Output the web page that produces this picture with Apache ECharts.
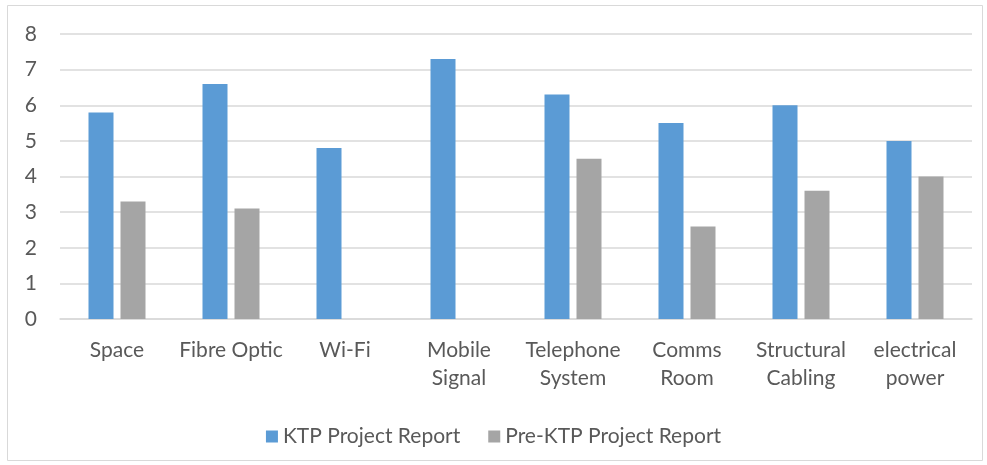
<!DOCTYPE html>
<html>
<head>
<meta charset="utf-8">
<script src="https://cdn.jsdelivr.net/npm/echarts@6/dist/echarts.min.js"></script>
<style>
  html, body { margin: 0; padding: 0; background: #fff; }
  #chart { width: 987px; height: 465px; }
</style>
</head>
<body>
<div id="chart"></div>
<script>
// Chart data
const categories = ['Space', 'Fibre Optic', 'Wi-Fi', 'Mobile\nSignal', 'Telephone\nSystem', 'Comms\nRoom', 'Structural\nCabling', 'electrical\npower'];
const ktpValues = [5.8, 6.6, 4.8, 7.3, 6.3, 5.5, 6.0, 5.0];
const preKtpValues = [3.3, 3.1, null, null, 4.5, 2.6, 3.6, 4.0];
const seriesNames = ['KTP Project Report', 'Pre-KTP Project Report'];

const textColor = '#595959';
const fontFamily = 'Lato, "Open Sans", sans-serif';

const chart = echarts.init(document.getElementById('chart'));

chart.setOption({
    animation: false,
    backgroundColor: '#fff',
    textStyle: { fontFamily: fontFamily },
    graphic: [{
        type: 'rect',
        shape: { x: 7.5, y: 5.5, width: 975, height: 455 },
        style: { fill: 'none', stroke: '#d9d9d9', lineWidth: 1 },
        silent: true
    }],
    grid: { left: 60, right: 15, top: 34, bottom: 146 },
    legend: {
        data: seriesNames,
        top: 421,
        left: 'center',
        itemWidth: 12,
        itemHeight: 12,
        itemGap: 28,
        icon: 'rect',
        textStyle: { color: textColor, fontSize: 21, fontFamily: fontFamily }
    },
    xAxis: {
        type: 'category',
        data: categories,
        axisLine: { lineStyle: { color: '#d9d9d9', width: 1.5 } },
        axisTick: { show: false },
        axisLabel: {
            color: textColor,
            fontSize: 21,
            lineHeight: 28,
            margin: 17,
            interval: 0,
            fontFamily: fontFamily
        }
    },
    yAxis: {
        type: 'value',
        min: 0,
        max: 8,
        interval: 1,
        axisLine: { show: false },
        axisTick: { show: false },
        splitLine: { lineStyle: { color: '#d9d9d9', width: 1.5 } },
        axisLabel: {
            color: textColor,
            fontSize: 21,
            margin: 23,
            fontFamily: fontFamily
        }
    },
    series: [
        {
            name: seriesNames[0],
            type: 'bar',
            data: ktpValues,
            barGap: '28%',
            barCategoryGap: '50%',
            itemStyle: { color: '#5b9bd5' }
        },
        {
            name: seriesNames[1],
            type: 'bar',
            data: preKtpValues,
            itemStyle: { color: '#a5a5a5' }
        }
    ]
});
</script>
</body>
</html>
